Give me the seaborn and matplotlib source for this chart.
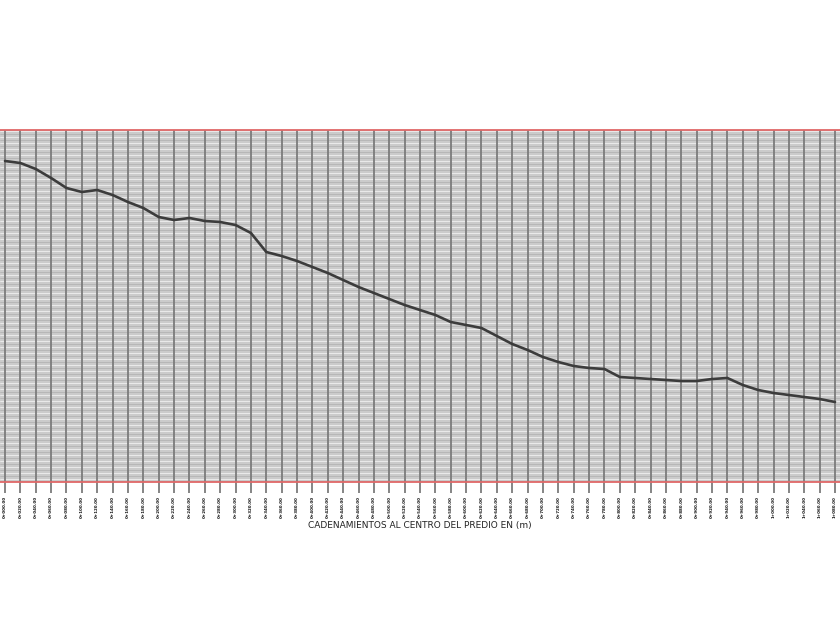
import numpy as np
import pandas as pd
import matplotlib
matplotlib.use("Agg")
import matplotlib.pyplot as plt
import seaborn as sns

cadenamientos = list(range(0, 1100, 20))
elevaciones = [2296.9, 2296.7, 2296.1, 2295.2, 2294.2, 2293.8, 2294.0, 2293.5, 2292.8, 2292.2,
               2291.3, 2291.0, 2291.2, 2290.9, 2290.8, 2290.5, 2289.7, 2287.8, 2287.4, 2286.9,
               2286.3, 2285.7, 2285.0, 2284.3, 2283.7, 2283.1, 2282.5, 2282.0, 2281.5, 2280.8,
               2280.5, 2280.2, 2279.4, 2278.6, 2278.0, 2277.3, 2276.8, 2276.4, 2276.2, 2276.1,
               2275.3, 2275.2, 2275.1, 2275.0, 2274.9, 2274.9, 2275.1, 2275.2, 2274.5, 2274.0,
               2273.7, 2273.5, 2273.3, 2273.1, 2272.8]
etiquetas = [f"{c // 1000}+{c % 1000:03d}.00" for c in cadenamientos]
titulo_x = "CADENAMIENTOS AL CENTRO DEL PREDIO EN (m)"

df = pd.DataFrame({"cadenamiento": cadenamientos, "elevacion": elevaciones})

sns.set_theme(style="white")
plt.rcParams["font.family"] = ["DejaVu Sans"]

fig = plt.figure(figsize=(8.4, 6.3), dpi=100)
ax = fig.add_axes([0.0, 1 - 482 / 630, 1.0, (482 - 130) / 630])
ax.set_facecolor("#cbcbcb")

# rejilla horizontal fina (cada 0.3 m)
for i, y in enumerate(np.arange(2264.8, 2300.0, 0.3)):
    ax.axhline(y, color="#efefef" if i % 2 else "#b4b4b4", lw=0.6, zorder=1)
# lineas verticales en cada cadenamiento
for c in cadenamientos:
    ax.axvline(c, color="#7c7c7c", lw=1.3, zorder=2)

sns.lineplot(data=df, x="cadenamiento", y="elevacion", ax=ax, color="#3c3c3c",
             lw=1.9, zorder=5)

ax.set_xlim(-6.5, 1086.5)
ax.set_ylim(2264.8, 2300.0)
ax.set_xticks(cadenamientos)
ax.set_xticklabels(etiquetas, rotation=90, fontsize=2.9, color="#111111",
                   fontweight="bold")
ax.set_yticks([])
ax.tick_params(axis="x", length=8, width=1.3, color="#7c7c7c", pad=2, direction="out",
               bottom=True)
for s in ["left", "right"]:
    ax.spines[s].set_visible(False)
for s in ["top", "bottom"]:
    ax.spines[s].set_color("#e06868")
    ax.spines[s].set_linewidth(1.3)
    ax.spines[s].set_zorder(6)
ax.set_xlabel(titulo_x, fontsize=6.5, color="#222222", labelpad=2)
ax.set_ylabel("")

fig.savefig("out.png", dpi=100)
